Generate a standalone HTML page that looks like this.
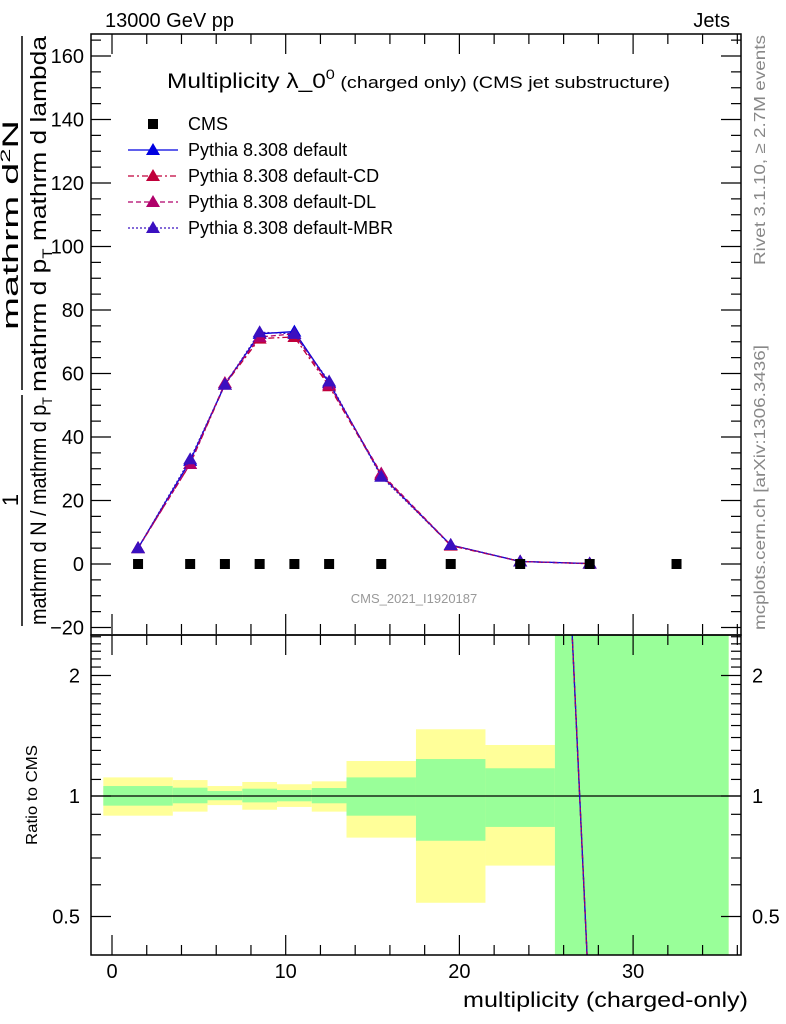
<!DOCTYPE html>
<html><head><meta charset="utf-8"><style>
body{margin:0;background:#fff}
svg{display:block;font-family:"Liberation Sans",Arial,sans-serif}
</style></head><body>
<svg id="c" width="786" height="1024" viewBox="0 0 786 1024" xmlns="http://www.w3.org/2000/svg">
<defs>
<clipPath id="cm"><rect x="91" y="34" width="650" height="601"/></clipPath>
<clipPath id="cr"><rect x="91" y="635" width="650" height="320"/></clipPath>
</defs>
<g id="ratioBands" clip-path="url(#cr)"></g>
<g id="ratioLines" clip-path="url(#cr)"></g>
<g id="main" clip-path="url(#cm)"></g>
<g id="axes"></g>
<rect x="91" y="34" width="650" height="601" fill="none" stroke="#000" stroke-width="1.5"/>
<rect x="91" y="635" width="650" height="320" fill="none" stroke="#000" stroke-width="1.5"/>
<text x="105" y="27" font-size="20">13000 GeV pp</text>
<text x="730" y="27" font-size="20" text-anchor="end">Jets</text>
<text x="167" y="88" font-size="21" textLength="503" lengthAdjust="spacingAndGlyphs">Multiplicity λ_0<tspan font-size="14" dy="-9">0</tspan><tspan font-size="17" dy="9"> (charged only) (CMS jet substructure)</tspan></text>
<text x="414" y="603" font-size="13" fill="#999" text-anchor="middle">CMS_2021_I1920187</text>
<text transform="translate(765,265) rotate(-90)" font-size="16" fill="#888" textLength="230" lengthAdjust="spacingAndGlyphs">Rivet 3.1.10, ≥ 2.7M events</text>
<text transform="translate(765,630) rotate(-90)" font-size="16" fill="#888" textLength="285" lengthAdjust="spacingAndGlyphs">mcplots.cern.ch [arXiv:1306.3436]</text>
<text x="463" y="1007" font-size="21" textLength="285" lengthAdjust="spacingAndGlyphs">multiplicity (charged-only)</text>
<text transform="translate(37,795) rotate(-90)" font-size="16" text-anchor="middle" textLength="100" lengthAdjust="spacingAndGlyphs">Ratio to CMS</text>
<g font-size="22">
<line x1="22" y1="395" x2="22" y2="626" stroke="#000" stroke-width="1.5"/>
<text transform="translate(18,500) rotate(-90)" text-anchor="middle">1</text>
<text transform="translate(46,625) rotate(-90)" textLength="228" lengthAdjust="spacingAndGlyphs">mathrm d N / mathrm d p<tspan font-size="14" dy="6">T</tspan></text>
<line x1="22" y1="36" x2="22" y2="390" stroke="#000" stroke-width="1.5"/>
<text transform="translate(18,330) rotate(-90)" textLength="210" lengthAdjust="spacingAndGlyphs">mathrm d<tspan font-size="14" dy="-8">2</tspan><tspan dy="8">N</tspan></text>
<text transform="translate(46,392) rotate(-90)" textLength="356" lengthAdjust="spacingAndGlyphs">mathrm d p<tspan font-size="14" dy="6">T</tspan><tspan dy="-6"> mathrm d lambda</tspan></text>
</g>
<g id="legend" font-size="18"></g>
</svg>
<script>
const binCenters=[1.5,4.5,6.5,8.5,10.5,12.5,15.5,19.5,23.5,27.5,32.5];
const cmsValues=[0,0,0,0,0,0,0,0,0,0,0];
const mcX=[1.5,4.5,6.5,8.5,10.5,12.5,15.5,19.5,23.5,27.5];
const pyDefault=[5,32.5,56.5,72.5,73.2,57,28,6,0.8,0.15];
const pyCD=[5,31.5,56.5,71,71.5,56,28,5.8,0.8,0.1];
const pyDL=[5,31.5,57,71.5,72.5,56.5,28.5,6,0.8,0.1];
const pyMBR=[5,33,56.5,73,72.5,57.5,27.5,6,0.8,0.1];
const binEdgesLo=[-0.5,3.5,5.5,7.5,9.5,11.5,13.5,17.5,21.5,25.5];
const binEdgesHi=[3.5,5.5,7.5,9.5,11.5,13.5,17.5,21.5,25.5,35.5];
const yellowUp=[1.113,1.096,1.059,1.084,1.070,1.088,1.223,1.468,1.341,3];
const yellowDn=[0.893,0.914,0.949,0.924,0.939,0.914,0.787,0.541,0.670,0.3];
const greenUp=[1.059,1.049,1.029,1.043,1.035,1.047,1.113,1.237,1.173,3];
const greenDn=[0.946,0.959,0.976,0.964,0.970,0.959,0.893,0.773,0.837,0.3];
const ratioLineX=[26.48,27.35];
const ratioLineY=[2.6,0.4];
const xTicks=[0,10,20,30];
const yTicks=[-20,0,20,40,60,80,100,120,140,160];
const rTicks=[0.5,1,2];

const NS="http://www.w3.org/2000/svg";
const X=v=>112+(v)*17.37;
const Y=v=>564-v*3.175;
const R=v=>796-Math.log(v)*173.8;
function mk(t,a,p){const e=document.createElementNS(NS,t);for(const k in a)e.setAttribute(k,a[k]);p.appendChild(e);return e;}
const ax=document.getElementById('axes');
for(let v=0;v<=36;v+=2){const major=v%10===0;const L=major?20:10;
 [[634,-1],[34,1],[955,-1],[635,1]].forEach(([y0,d])=>{const t=mk('line',{x1:X(v),x2:X(v),y1:y0,y2:y0+d*L,stroke:'#000','stroke-width':1.2},ax);});}
xTicks.forEach(v=>{const t=mk('text',{x:X(v),y:978,'font-size':20,'text-anchor':'middle'},ax);t.textContent=v;});
for(let v=-20;v<=165;v+=5){const major=v%20===0;const L=major?20:10;
 [[91,1],[741,-1]].forEach(([x0,d])=>{const t=mk('line',{x1:x0,x2:x0+d*L,y1:Y(v),y2:Y(v),stroke:'#000','stroke-width':1.2},ax);});}
yTicks.forEach(v=>{const t=mk('text',{x:84,y:Y(v)+7,'font-size':20,'text-anchor':'end'},ax);t.textContent=(v<0?'\u2212'+(-v):v);});
for(let k=4;k<=26;k++){const vv=k/10;const major=rTicks.includes(vv);const L=major?20:10;
 if(R(vv)<636||R(vv)>954)continue;
 [[91,1],[741,-1]].forEach(([x0,d])=>{const t=mk('line',{x1:x0,x2:x0+d*L,y1:R(vv),y2:R(vv),stroke:'#000','stroke-width':1.2},ax);});}
rTicks.forEach(v=>{[[80,'end'],[752,'start']].forEach(([x,a])=>{const t=mk('text',{x:x,y:R(v)+7,'font-size':20,'text-anchor':a},ax);t.textContent=v;});});
const rb=document.getElementById('ratioBands');
binEdgesLo.forEach((lo,i)=>{const x1=X(lo),x2=X(binEdgesHi[i]);
 const y=mk('rect',{x:x1,y:R(yellowUp[i]),width:x2-x1,height:R(yellowDn[i])-R(yellowUp[i]),fill:'#ffff99'},rb);
 const g=mk('rect',{x:x1,y:R(greenUp[i]),width:x2-x1,height:R(greenDn[i])-R(greenUp[i]),fill:'#99ff99'},rb);});
const rl=document.getElementById('ratioLines');
const one=mk('line',{x1:91,x2:741,y1:R(1),y2:R(1),stroke:'#000','stroke-width':1.2},rl);
const series=[
 {n:'default',v:pyDefault,c:'#0000e0',d:''},
 {n:'default-CD',v:pyCD,c:'#c0003a',d:'6 3 2 3'},
 {n:'default-DL',v:pyDL,c:'#b0006a',d:'5 3'},
 {n:'default-MBR',v:pyMBR,c:'#3a10c0',d:'2 2'}];
series.forEach(s=>{const l=mk('line',{x1:X(ratioLineX[0]),y1:R(ratioLineY[0]),x2:X(ratioLineX[1]),y2:R(ratioLineY[1]),stroke:s.c,'stroke-width':1.3,'stroke-dasharray':s.d},rl);});
const m=document.getElementById('main');
function tri(cx,cy,c,p){return mk('polygon',{points:`${cx},${cy-7} ${cx-7},${cy+5} ${cx+7},${cy+5}`,fill:c},p);}
series.forEach(s=>{const pts=mcX.map((x,i)=>X(x)+','+Y(s.v[i])).join(' ');
 const pl=mk('polyline',{points:pts,fill:'none',stroke:s.c,'stroke-width':1.3,'stroke-dasharray':s.d},m);
 mcX.forEach((x,i)=>{const t=tri(X(x),Y(s.v[i]),s.c,m);});});
binCenters.forEach((x,i)=>{const r=mk('rect',{x:X(x)-5,y:Y(cmsValues[i])-5,width:10,height:10,fill:'#000'},m);});
const lg=document.getElementById('legend');
const rows=[{n:'CMS',c:'#000'}].concat(series.map(s=>({n:'Pythia 8.308 '+s.n,c:s.c,d:s.d})));
rows.forEach((r,i)=>{const y=124+i*26;
 if(i===0){const q=mk('rect',{x:148,y:y-5,width:10,height:10,fill:'#000'},lg);}
 else{const l=mk('line',{x1:128,x2:178,y1:y,y2:y,stroke:r.c,'stroke-width':1.3,'stroke-dasharray':r.d},lg);
  const t=tri(153,y,r.c,lg);}
 const tx=mk('text',{x:188,y:y+6},lg);tx.textContent=r.n;});
</script>
</body></html>
